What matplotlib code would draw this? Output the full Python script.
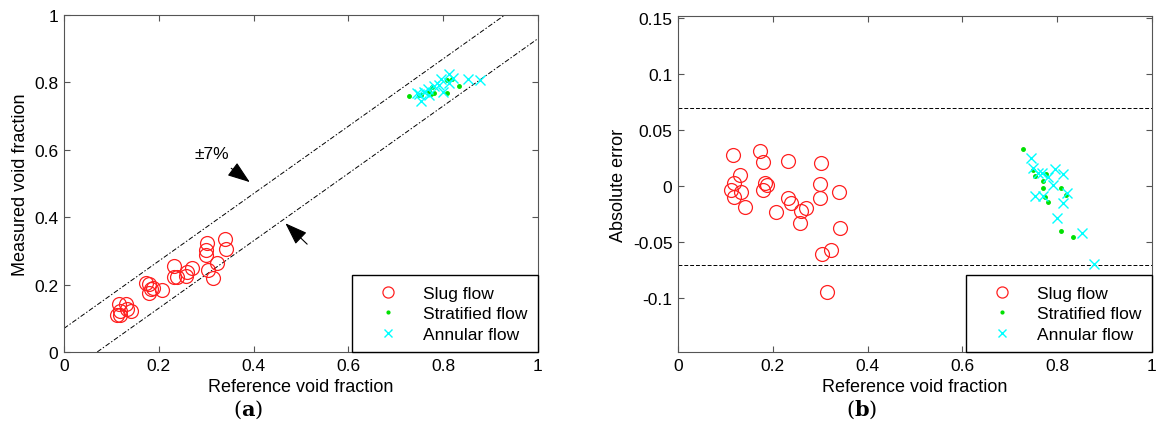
import matplotlib
matplotlib.use('Agg')
import matplotlib.pyplot as plt
import numpy as np

plt.rcParams['font.family'] = ['Liberation Sans', 'DejaVu Sans']
plt.rcParams['mathtext.fontset'] = 'dejavuserif'

# Slug flow: reference void fraction and absolute error
slug_ref = [0.115, 0.174, 0.180, 0.233, 0.302, 0.131, 0.119, 0.112, 0.133, 0.118,
            0.184, 0.188, 0.179, 0.300, 0.339, 0.300, 0.141, 0.207, 0.233, 0.238,
            0.259, 0.269, 0.257, 0.342, 0.322, 0.304, 0.315]
slug_err = [0.028, 0.0315, 0.0214, 0.0223, 0.0211, 0.0101, 0.0033, -0.0033, -0.0054, -0.0092,
            0.0033, 0.0012, -0.0033, 0.0018, -0.0048, -0.0107, -0.0188, -0.0226, -0.0101, -0.0152,
            -0.0223, -0.0196, -0.0324, -0.0372, -0.0571, -0.0607, -0.0944]
# Stratified flow
strat_ref = [0.728, 0.748, 0.753, 0.769, 0.771, 0.774, 0.781, 0.809, 0.819, 0.809, 0.834, 0.776]
strat_err = [0.033, 0.0146, 0.0092, 0.0048, -0.0018, -0.0092, -0.0137, -0.0018, -0.0078, -0.0399, -0.0453, 0.0107]
# Annular flow
ann_ref = [0.745, 0.748, 0.767, 0.795, 0.813, 0.781, 0.792, 0.753, 0.771, 0.820,
           0.813, 0.800, 0.852, 0.877, 0.760]
ann_err = [0.025, 0.0161, 0.0122, 0.0152, 0.0107, 0.0083, 0.0012, -0.0087, -0.0087, -0.0056,
           -0.0146, -0.0286, -0.0414, -0.069, 0.0116]

tol = 0.07
labels = ['Slug flow', 'Stratified flow', 'Annular flow']

slug_meas = np.array(slug_ref) + np.array(slug_err)
strat_meas = np.array(strat_ref) + np.array(strat_err)
ann_meas = np.array(ann_ref) + np.array(ann_err)

fig = plt.figure(figsize=(11.58, 4.39), dpi=100)
ax1 = fig.add_axes([64/1158., 1-353/439., 474/1158., 337/439.])
ax2 = fig.add_axes([678/1158., 1-353/439., 474/1158., 336/439.])

circ = dict(marker='o', ls='none', mfc='none', mec='#ff2020', ms=10, mew=0.9)
dot = dict(marker='.', ls='none', color='#00e000', ms=5)
cross = dict(marker='x', ls='none', color='#00ffff', ms=7, mew=1.0)
leg_kw = dict(loc='lower right', borderaxespad=0, fancybox=False, edgecolor='k', fontsize=12.5,
              handletextpad=0.5, borderpad=0.6, labelspacing=0.3, handlelength=3.0, framealpha=1,
              markerscale=0.8)

# (a) measured vs reference
xx = np.array([0, 1])
ax1.plot(xx, xx + tol, color='k', ls=(0, (5, 2, 1.5, 2)), lw=0.7)
ax1.plot(xx, xx - tol, color='k', ls=(0, (5, 2, 1.5, 2)), lw=0.7)
h1, = ax1.plot(slug_ref, slug_meas, **circ)
h2, = ax1.plot(strat_ref, strat_meas, **dot)
h3, = ax1.plot(ann_ref, ann_meas, **cross)
ax1.set_xlim(0, 1)
ax1.set_ylim(0, 1)
ax1.set_xticks([0, 0.2, 0.4, 0.6, 0.8, 1])
ax1.set_xticklabels(['0', '0.2', '0.4', '0.6', '0.8', '1'])
ax1.set_yticks([0, 0.2, 0.4, 0.6, 0.8, 1])
ax1.set_yticklabels(['0', '0.2', '0.4', '0.6', '0.8', '1'])
ax1.set_xlabel('Reference void fraction', fontsize=13)
ax1.set_ylabel('Measured void fraction', fontsize=13)
ax1.annotate('\u00b17%', xy=(0.392, 0.504), xytext=(0.312, 0.588), fontsize=12.5,
             ha='center', va='center',
             arrowprops=dict(arrowstyle='-|>,head_length=0.7,head_width=0.25', color='k', lw=0.8,
                             mutation_scale=20, shrinkA=5, shrinkB=0))
ax1.annotate('', xy=(0.467, 0.382), xytext=(0.513, 0.320),
             arrowprops=dict(arrowstyle='-|>,head_length=0.7,head_width=0.25', color='k', lw=0.8,
                             mutation_scale=20, shrinkA=0, shrinkB=0))
ax1.legend([h1, h2, h3], labels, **leg_kw)

# (b) absolute error vs reference
ax2.axhline(tol, color='k', ls=(0, (4, 2)), lw=0.7)
ax2.axhline(-tol, color='k', ls=(0, (4, 2)), lw=0.7)
h1, = ax2.plot(slug_ref, slug_err, **circ)
h2, = ax2.plot(strat_ref, strat_err, **dot)
h3, = ax2.plot(ann_ref, ann_err, **cross)
ax2.set_xlim(0, 1)
ax2.set_ylim(-0.148, 0.152)
ax2.set_xticks([0, 0.2, 0.4, 0.6, 0.8, 1])
ax2.set_xticklabels(['0', '0.2', '0.4', '0.6', '0.8', '1'])
ax2.set_yticks([-0.1, -0.05, 0, 0.05, 0.1, 0.15])
ax2.set_yticklabels(['-0.1', '-0.05', '0', '0.05', '0.1', '0.15'])
ax2.set_xlabel('Reference void fraction', fontsize=13)
ax2.set_ylabel('Absolute error', fontsize=13)
ax2.legend([h1, h2, h3], labels, **leg_kw)

for ax in [ax1, ax2]:
    for s in ax.spines.values():
        s.set_color('#555555')
        s.set_linewidth(0.8)
    ax.tick_params(direction='in', top=True, right=True, length=4, labelsize=12.5, colors='#555555',
                   labelcolor='k', pad=4)

fig.text(248/1158., 1-410/439., r'($\mathbf{a}$)', fontsize=15, family='DejaVu Serif',
         ha='center', va='center')
fig.text(862/1158., 1-410/439., r'($\mathbf{b}$)', fontsize=15, family='DejaVu Serif',
         ha='center', va='center')

plt.savefig('out.png', dpi=100)
